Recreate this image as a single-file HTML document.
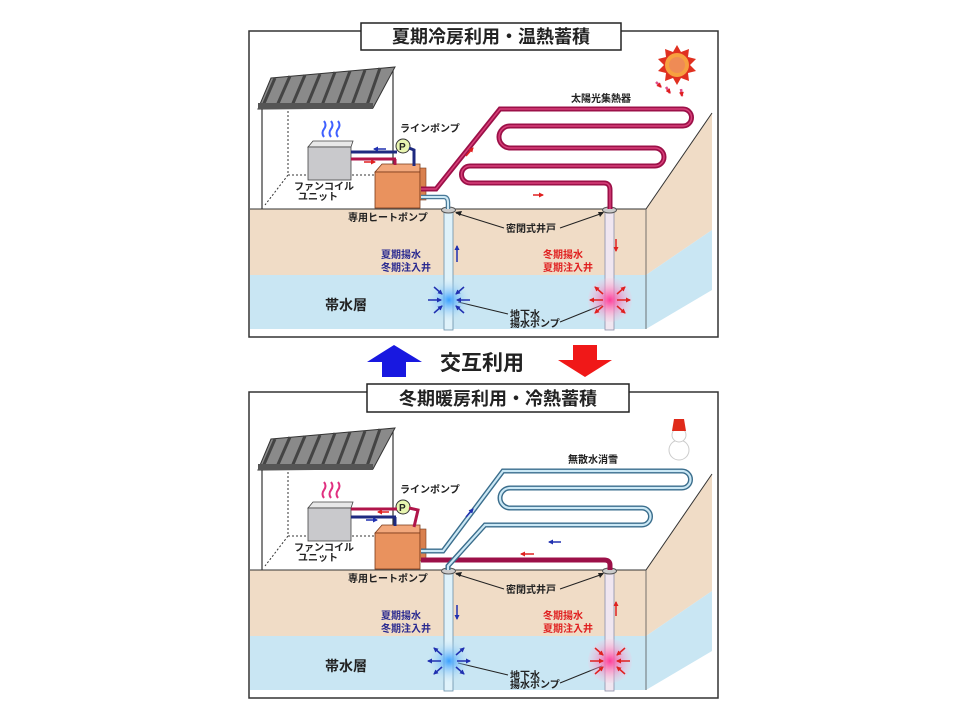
<!DOCTYPE html>
<html><head><meta charset="utf-8"><style>
html,body{margin:0;padding:0;background:#fff;}
svg{display:block;}
text{font-family:"Liberation Sans","Noto Sans CJK JP",sans-serif;font-weight:bold;}
</style></head><body>
<svg width="960" height="720" viewBox="0 0 960 720" xmlns="http://www.w3.org/2000/svg">
<defs>
<marker id="ab" markerWidth="5" markerHeight="5" refX="4" refY="2.5" orient="auto" markerUnits="userSpaceOnUse"><path d="M0,0 L5,2.5 L0,5 z" fill="#2030b0"/></marker>
<marker id="ar" markerWidth="5" markerHeight="5" refX="4" refY="2.5" orient="auto" markerUnits="userSpaceOnUse"><path d="M0,0 L5,2.5 L0,5 z" fill="#e02020"/></marker>
<radialGradient id="bg" cx="0.5" cy="0.5" r="0.5"><stop offset="0" stop-color="#3aa0ff"/><stop offset="1" stop-color="#c7e6f3" stop-opacity="0"/></radialGradient>
<radialGradient id="pg" cx="0.5" cy="0.5" r="0.5"><stop offset="0" stop-color="#ff3c9a"/><stop offset="1" stop-color="#f3c7e0" stop-opacity="0.2"/></radialGradient>
<g id="base">
  <rect x="249" y="31" width="469" height="306" fill="#fff" stroke="#333" stroke-width="1.5"/>
  <rect x="250" y="209" width="396" height="66" fill="#f0dcc6"/>
  <rect x="250" y="275" width="396" height="54" fill="#c9e6f3"/>
  <polygon points="646,209 712,113 712,230 646,275" fill="#f0dcc6"/>
  <polygon points="646,275 712,230 712,290 646,329" fill="#c9e6f3"/>
  <polyline points="250,209 646,209 712,113" fill="none" stroke="#333" stroke-width="1"/>
  <polyline points="646,209 646,329" fill="none" stroke="#555" stroke-width="0.8"/>
  <line x1="262" y1="108" x2="262" y2="209" stroke="#333" stroke-width="1.2"/>
  <line x1="393" y1="70" x2="393" y2="190" stroke="#333" stroke-width="1.2"/>
  <line x1="288" y1="111" x2="288" y2="175" stroke="#333" stroke-width="1" stroke-dasharray="2,2"/>
  <line x1="288" y1="175" x2="265" y2="205" stroke="#333" stroke-width="1" stroke-dasharray="2,2"/>
  <line x1="288" y1="175" x2="380" y2="175" stroke="#333" stroke-width="1" stroke-dasharray="2,2"/>
  <polygon points="271,78 395,67 373,108 258,109" fill="#8a8a8a" stroke="#333"/>
  <g stroke="#444" stroke-width="3">
    <line x1="275" y1="78" x2="262" y2="108"/><line x1="290" y1="76" x2="276" y2="108"/>
    <line x1="305" y1="75" x2="291" y2="108"/><line x1="320" y1="74" x2="306" y2="108"/>
    <line x1="335" y1="72" x2="321" y2="108"/><line x1="350" y1="71" x2="336" y2="108"/>
    <line x1="365" y1="70" x2="351" y2="108"/><line x1="380" y1="68" x2="366" y2="108"/>
  </g>
  <rect x="258" y="103" width="115" height="6" fill="#555"/>
  <polygon points="308,147 313,141 353,141 351,147" fill="#e8e8e8" stroke="#444" stroke-width="0.8"/>
  <rect x="308" y="147" width="43" height="33" fill="#c9c9cc" stroke="#444" stroke-width="0.8"/>
  <polygon points="375,172 382,164 420,164 420,172" fill="#f2a77b" stroke="#7a3a1a" stroke-width="0.8"/>
  <rect x="375" y="172" width="45" height="36" fill="#e9925e" stroke="#7a3a1a" stroke-width="0.8"/>
  <rect x="420" y="168" width="6" height="32" fill="#d9804e" stroke="#7a3a1a" stroke-width="0.6"/>
  <rect x="444" y="209" width="9" height="121" fill="#dff2fa" stroke="#6a8fa8" stroke-width="0.8"/>
  <rect x="605" y="209" width="9" height="121" fill="#f0e6f0" stroke="#8a8fa8" stroke-width="0.8"/>
  <ellipse cx="448.5" cy="210" rx="7" ry="3" fill="#ccc" stroke="#555"/>
  <ellipse cx="609.5" cy="210" rx="7" ry="3" fill="#ccc" stroke="#555"/>
  <text x="400" y="132" font-size="10" fill="#222">ラインポンプ</text>
  <text x="294" y="190" font-size="10" fill="#222">ファンコイル</text>
  <text x="298" y="200" font-size="10" fill="#222">ユニット</text>
  <text x="348" y="221" font-size="10" fill="#222">専用ヒートポンプ</text>
  <text x="506" y="232" font-size="10" fill="#222">密閉式井戸</text>
  <line x1="504" y1="228" x2="456" y2="213" stroke="#222"/>
  <polygon points="455,212 462,211 460,216" fill="#222"/>
  <line x1="560" y1="228" x2="603" y2="213" stroke="#222"/>
  <polygon points="604,212 598,212 600,217" fill="#222"/>
  <text x="381" y="258" font-size="10" fill="#2a2a90">夏期揚水</text>
  <text x="381" y="271" font-size="10" fill="#2a2a90">冬期注入井</text>
  <text x="543" y="258" font-size="10" fill="#e02020">冬期揚水</text>
  <text x="543" y="271" font-size="10" fill="#e02020">夏期注入井</text>
  <text x="325" y="310" font-size="14" fill="#222">帯水層</text>
  <text x="510" y="318" font-size="10" fill="#222">地下水</text>
  <text x="510" y="327" font-size="10" fill="#222">揚水ポンプ</text>
  <line x1="508" y1="314" x2="458" y2="302" stroke="#222"/>
  <line x1="560" y1="322" x2="602" y2="305" stroke="#222"/>
  <circle cx="403" cy="146" r="7" fill="#e8f5b0" stroke="#333"/>
  <text x="399" y="150" font-size="10" fill="#222">P</text>
</g>
</defs>

<use href="#base"/>
<rect x="361" y="23" width="260" height="27" fill="#fff" stroke="#222" stroke-width="1.5"/>
<text x="491" y="43" font-size="18" fill="#222" text-anchor="middle">夏期冷房利用・温熱蓄積</text>
<circle cx="449" cy="300" r="22" fill="url(#bg)"/>
<circle cx="610" cy="300" r="22" fill="url(#pg)"/>
<g stroke="#2030b0" stroke-width="1.5">
<line x1="428" y1="300" x2="441" y2="300" marker-end="url(#ab)"/><line x1="470" y1="300" x2="457" y2="300" marker-end="url(#ab)"/>
<line x1="434" y1="287" x2="442" y2="294" marker-end="url(#ab)"/><line x1="464" y1="287" x2="456" y2="294" marker-end="url(#ab)"/>
<line x1="434" y1="313" x2="442" y2="306" marker-end="url(#ab)"/><line x1="464" y1="313" x2="456" y2="306" marker-end="url(#ab)"/>
</g>
<g stroke="#e02020" stroke-width="1.5">
<line x1="603" y1="300" x2="590" y2="300" marker-end="url(#ar)"/><line x1="617" y1="300" x2="630" y2="300" marker-end="url(#ar)"/>
<line x1="603" y1="294" x2="595" y2="287" marker-end="url(#ar)"/><line x1="617" y1="294" x2="625" y2="287" marker-end="url(#ar)"/>
<line x1="603" y1="306" x2="595" y2="313" marker-end="url(#ar)"/><line x1="617" y1="306" x2="625" y2="313" marker-end="url(#ar)"/>
</g>
<line x1="351" y1="152" x2="397" y2="152" stroke="#1e2a80" stroke-width="3"/>
<polyline points="409,148 414,150 414,166" fill="none" stroke="#1e2a80" stroke-width="3"/>
<line x1="351" y1="159" x2="396" y2="159" stroke="#b0154a" stroke-width="3"/>
<line x1="395" y1="159" x2="395" y2="165" stroke="#b0154a" stroke-width="3"/>
<path d="M421,197 H444 Q448,197 448,203 V209" fill="none" stroke="#4a7a99" stroke-width="4.5"/>
<path d="M421,197 H444 Q448,197 448,203 V209" fill="none" stroke="#cde9f5" stroke-width="2"/>
<path d="M421,189 H436 L500,109 H683 A8.5,8.5 0 0 1 683,126 H510 A11,11 0 0 0 510,148 H655 A9,9 0 0 1 655,166 H470 A8.5,8.5 0 0 0 470,183 H604 Q610,183 610,190 V209" fill="none" stroke="#9c1048" stroke-width="5"/>
<path d="M421,189 H436 L500,109 H683 A8.5,8.5 0 0 1 683,126 H510 A11,11 0 0 0 510,148 H655 A9,9 0 0 1 655,166 H470 A8.5,8.5 0 0 0 470,183 H604 Q610,183 610,190 V209" fill="none" stroke="#d8407a" stroke-width="1.5"/>
<text x="571" y="102" font-size="10" fill="#222">太陽光集熱器</text>
<g stroke="#e02020" stroke-width="1.5">
<line x1="466" y1="156" x2="473" y2="148" marker-end="url(#ar)"/><line x1="533" y1="195" x2="543" y2="195" marker-end="url(#ar)"/>
<line x1="364" y1="162" x2="375" y2="162" marker-end="url(#ar)"/><line x1="616" y1="239" x2="616" y2="251" marker-end="url(#ar)"/>
</g>
<g stroke="#2030b0" stroke-width="1.5"><line x1="386" y1="149" x2="374" y2="149" marker-end="url(#ab)"/><line x1="457" y1="262" x2="457" y2="246" marker-end="url(#ab)"/></g>
<g stroke="#4060ff" stroke-width="2" fill="none"><path d="M324,137 q-3,-4 0,-8 q3,-4 0,-8"/><path d="M331,137 q-3,-4 0,-8 q3,-4 0,-8"/><path d="M338,137 q-3,-4 0,-8 q3,-4 0,-8"/></g>
<!-- sun -->
<polygon points="677,45 681,52 689,49 688,57 696,59 690,65 696,71 688,73 689,81 681,78 677,85 673,78 665,81 666,73 658,71 664,65 658,59 666,57 665,49 673,52" fill="#e03020"/>
<circle cx="677" cy="65" r="12" fill="#f7a040"/>
<circle cx="677" cy="65" r="8" fill="#ef8b55"/>
<g stroke="#e0508a" stroke-width="2.5"><line x1="656" y1="82" x2="661" y2="87" marker-end="url(#ar)"/><line x1="666" y1="87" x2="670" y2="93" marker-end="url(#ar)"/><line x1="681" y1="89" x2="682" y2="96" marker-end="url(#ar)"/></g>

<line x1="249" y1="337" x2="718" y2="337" stroke="#333"/>
<polygon points="394,345 422,362 406,362 406,377 382,377 382,362 367,362" fill="#1818e0"/>
<text x="440" y="370" font-size="21" fill="#222">交互利用</text>
<polygon points="573,345 597,345 597,360 612,360 585,377 558,360 573,360" fill="#f01818"/>

<g transform="translate(0,361)">
<use href="#base"/>
<rect x="367" y="23" width="262" height="28" fill="#fff" stroke="#222" stroke-width="1.5"/>
<text x="498" y="44" font-size="18" fill="#222" text-anchor="middle">冬期暖房利用・冷熱蓄積</text>
<circle cx="449" cy="300" r="22" fill="url(#bg)"/>
<circle cx="610" cy="300" r="22" fill="url(#pg)"/>
<g stroke="#2030b0" stroke-width="1.5">
<line x1="441" y1="300" x2="428" y2="300" marker-end="url(#ab)"/><line x1="457" y1="300" x2="470" y2="300" marker-end="url(#ab)"/>
<line x1="442" y1="294" x2="434" y2="287" marker-end="url(#ab)"/><line x1="456" y1="294" x2="464" y2="287" marker-end="url(#ab)"/>
<line x1="442" y1="306" x2="434" y2="313" marker-end="url(#ab)"/><line x1="456" y1="306" x2="464" y2="313" marker-end="url(#ab)"/>
</g>
<g stroke="#e02020" stroke-width="1.5">
<line x1="590" y1="300" x2="603" y2="300" marker-end="url(#ar)"/><line x1="630" y1="300" x2="617" y2="300" marker-end="url(#ar)"/>
<line x1="595" y1="287" x2="603" y2="294" marker-end="url(#ar)"/><line x1="625" y1="287" x2="617" y2="294" marker-end="url(#ar)"/>
<line x1="595" y1="313" x2="603" y2="306" marker-end="url(#ar)"/><line x1="625" y1="313" x2="617" y2="306" marker-end="url(#ar)"/>
</g>
<line x1="351" y1="148" x2="397" y2="148" stroke="#b0154a" stroke-width="3"/>
<polyline points="409,147 418,149 414,166" fill="none" stroke="#b0154a" stroke-width="3"/>
<line x1="351" y1="156" x2="396" y2="156" stroke="#1e2a80" stroke-width="3"/>
<line x1="395" y1="156" x2="395" y2="165" stroke="#1e2a80" stroke-width="3"/>
<path d="M421,199 H604 Q610,199 610,204 V209" fill="none" stroke="#9c1048" stroke-width="5"/>
<path d="M421,190 H443 L503,110 H682 A8.5,8.5 0 0 1 682,127 H510 A10,10 0 0 0 510,147 H642 A8.5,8.5 0 0 1 642,164 H485 L448,205 V209" fill="none" stroke="#3a6d8c" stroke-width="5"/>
<path d="M421,190 H443 L503,110 H682 A8.5,8.5 0 0 1 682,127 H510 A10,10 0 0 0 510,147 H642 A8.5,8.5 0 0 1 642,164 H485 L448,205 V209" fill="none" stroke="#cbe8f5" stroke-width="2.2"/>
<text x="568" y="102" font-size="10" fill="#222">無散水消雪</text>
<g stroke="#2030b0" stroke-width="1.5"><line x1="466" y1="156" x2="473" y2="148" marker-end="url(#ab)"/><line x1="561" y1="181" x2="549" y2="181" marker-end="url(#ab)"/><line x1="366" y1="159" x2="377" y2="159" marker-end="url(#ab)"/><line x1="457" y1="244" x2="457" y2="258" marker-end="url(#ab)"/></g>
<g stroke="#e02020" stroke-width="1.5"><line x1="534" y1="193" x2="521" y2="193" marker-end="url(#ar)"/><line x1="389" y1="151" x2="378" y2="151" marker-end="url(#ar)"/><line x1="616" y1="255" x2="616" y2="241" marker-end="url(#ar)"/></g>
<g stroke="#e03080" stroke-width="2" fill="none"><path d="M324,137 q-3,-4 0,-8 q3,-4 0,-8"/><path d="M331,137 q-3,-4 0,-8 q3,-4 0,-8"/><path d="M338,137 q-3,-4 0,-8 q3,-4 0,-8"/></g>
<circle cx="679" cy="89" r="10" fill="#fff" stroke="#ccc"/>
<circle cx="679" cy="74" r="7" fill="#fff" stroke="#ccc"/>
<polygon points="672,70 686,70 684,58 674,58" fill="#e02a1a"/>
</g>
<line x1="249" y1="698" x2="718" y2="698" stroke="#333"/>
</svg>
</body></html>
